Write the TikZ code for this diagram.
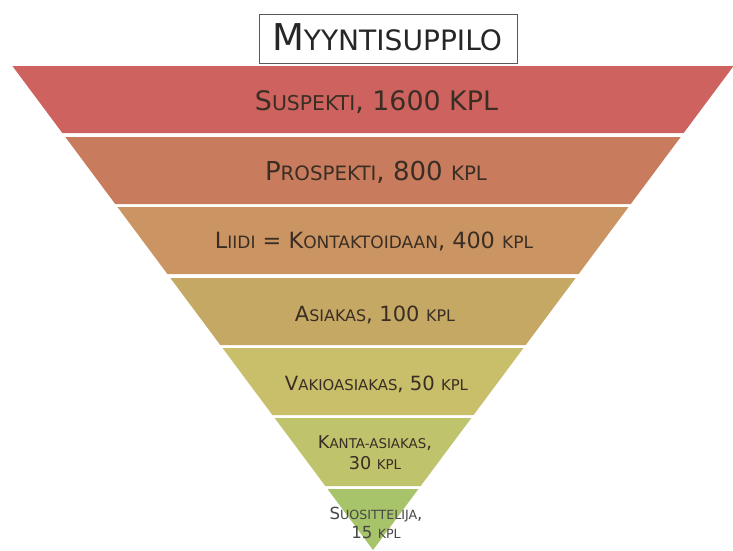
\documentclass[tikz,border=0pt]{standalone}
\usepackage{fontspec}
\setmainfont{DejaVu Sans}
\usepackage{graphicx}
\newcommand\sm[1]{\scalebox{0.76}{#1}}
\newcommand\fitw[2]{\resizebox{#1}{!}{#2}}
\definecolor{bone}{HTML}{CD625E}
\definecolor{btwo}{HTML}{C97B5D}
\definecolor{bthree}{HTML}{CB9463}
\definecolor{bfour}{HTML}{C6A865}
\definecolor{bfive}{HTML}{C9BE6A}
\definecolor{bsix}{HTML}{BEC36C}
\definecolor{bseven}{HTML}{A8C46A}
\definecolor{txt}{HTML}{3A2E24}
\newcommand\band[3]{%
  \fill[#3] ({373-(550-#1)*0.745},#1) -- ({373+(550-#1)*0.745},#1)
     -- ({373+(550-#2)*0.745},#2) -- ({373-(550-#2)*0.745},#2) -- cycle;}
\begin{document}
\begin{tikzpicture}[x=1pt,y=-1pt,
  lbl/.style={text=txt,inner sep=0pt,anchor=base},
  lblc/.style={text=txt,inner sep=0pt,anchor=center}]
\useasboundingbox (0,0) rectangle (733,550);
\fill[white] (0,0) rectangle (733,550);
\band{66}{133}{bone}
\band{137}{204}{btwo}
\band{207}{274}{bthree}
\band{278}{345}{bfour}
\band{348}{415}{bfive}
\band{418}{486}{bsix}
\band{489}{550}{bseven}
\node[draw=black!65,line width=1pt,minimum width=258pt,minimum height=49pt,inner sep=0pt] (titlebox) at (388,38.5) {};
\node[lbl,text=black!85] (title) at (387,50) {\fitw{230pt}{M\sm{YYNTISUPPILO}}};
\node[lbl] (suspekti) at (376.5,110) {\fitw{243pt}{S\sm{USPEKTI}, 1600 KPL}};
\node[lbl] (prospekti) at (376,180) {\fitw{222pt}{P\sm{ROSPEKTI}, 800 \sm{KPL}}};
\node[lbl] (liidi) at (374,248.3) {\fitw{318pt}{L\sm{IIDI} = K\sm{ONTAKTOIDAAN}, 400 \sm{KPL}}};
\node[lbl] (asiakas) at (375,321.7) {\fitw{160pt}{A\sm{SIAKAS}, 100 \sm{KPL}}};
\node[lbl] (vakio) at (376.5,390) {\fitw{183pt}{V\sm{AKIOASIAKAS}, 50 \sm{KPL}}};
\node[lblc] (kanta) at (375,455) {\fitw{114pt}{\begin{tabular}{@{}c@{}}K\sm{ANTA-ASIAKAS},\\30 \sm{KPL}\end{tabular}}};
\node[lblc,text=black!72] (suos) at (376,525) {\fitw{93pt}{\begin{tabular}{@{}c@{}}S\sm{UOSITTELIJA},\\15 \sm{KPL}\end{tabular}}};
\end{tikzpicture}
\end{document}
